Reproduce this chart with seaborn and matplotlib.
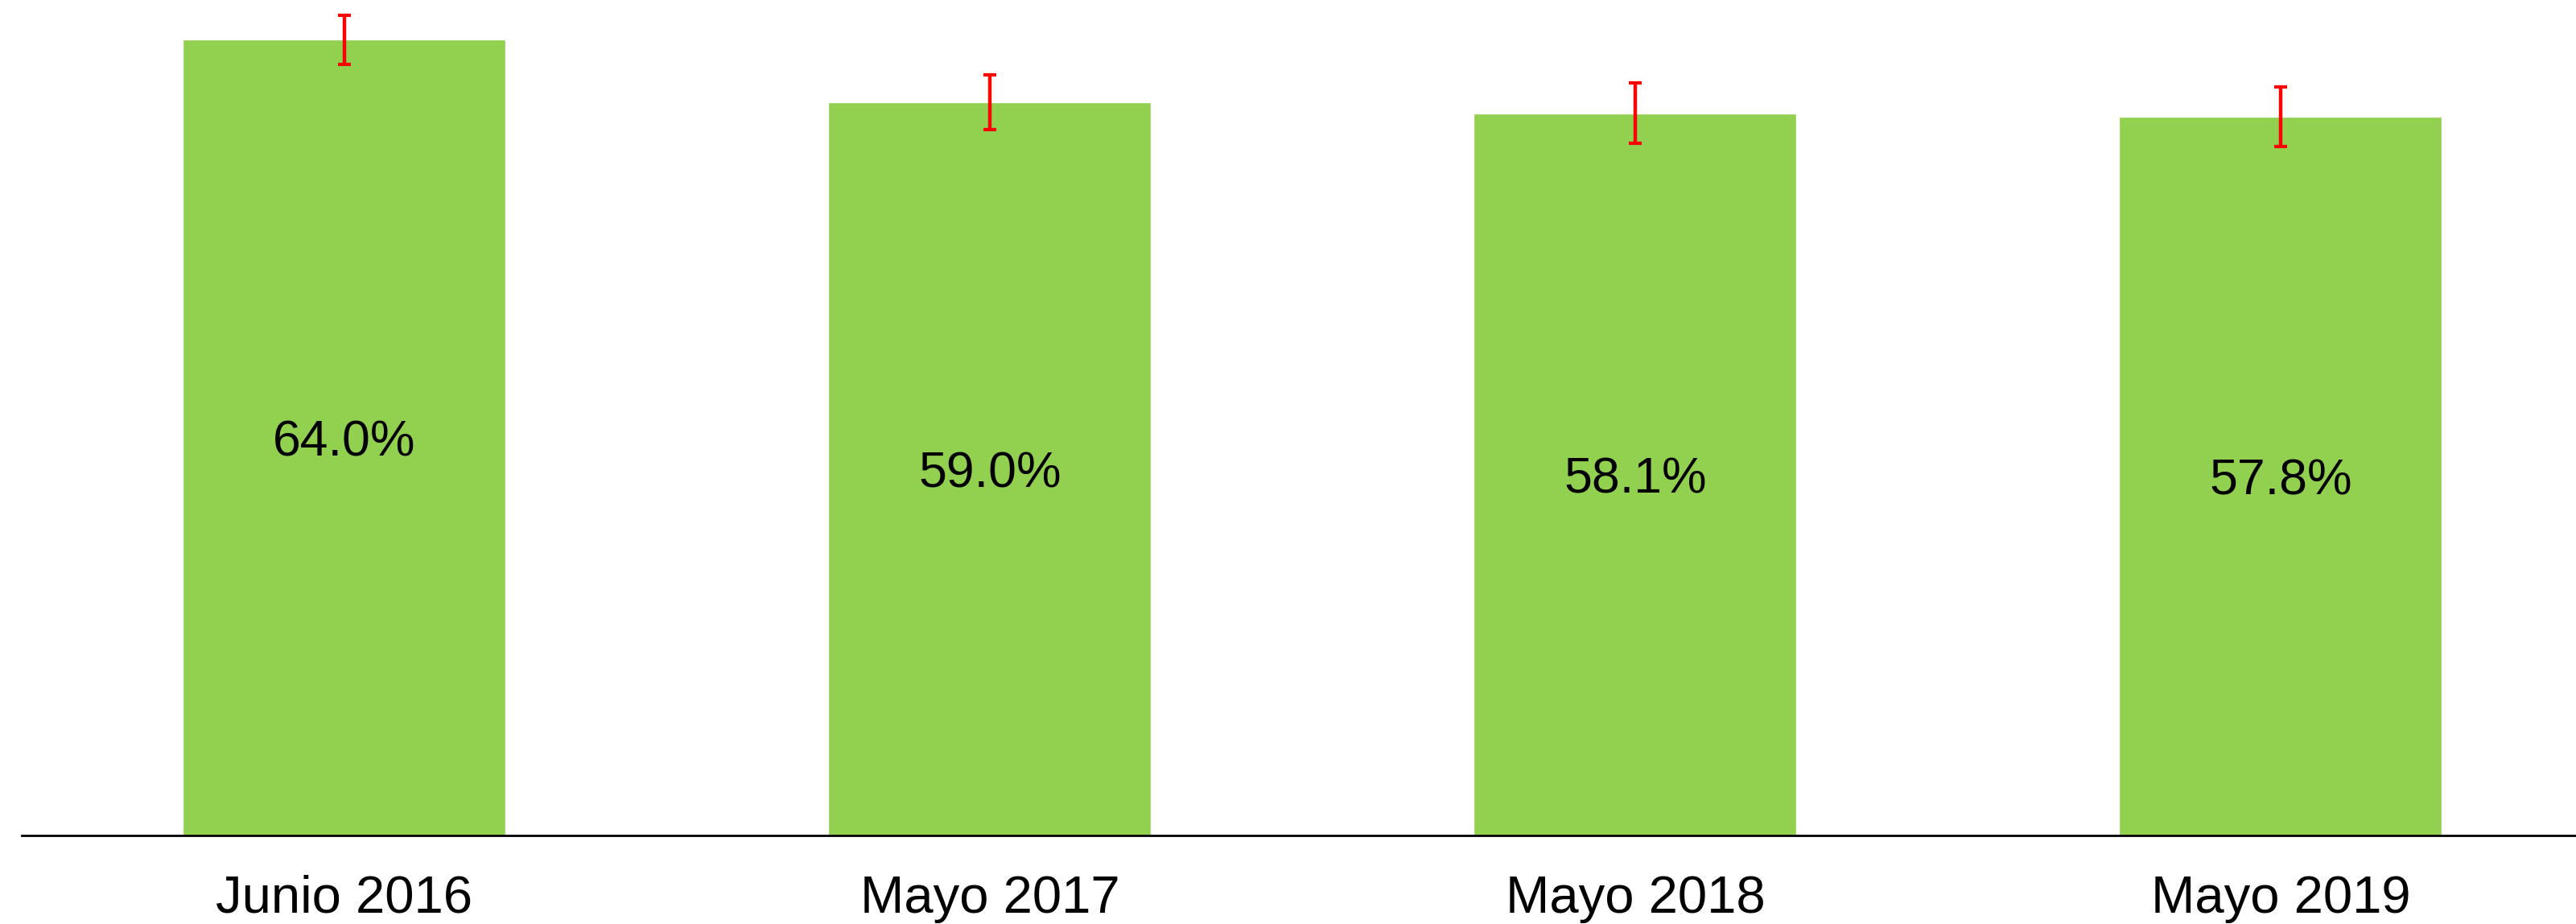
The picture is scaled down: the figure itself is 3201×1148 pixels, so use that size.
import matplotlib
matplotlib.use('Agg')
import matplotlib.pyplot as plt
import seaborn as sns
import pandas as pd

# Data
periods = ['Junio 2016', 'Mayo 2017', 'Mayo 2018', 'Mayo 2019']
values = [64.0, 59.0, 58.1, 57.8]
errors = [2.0, 2.2, 2.4, 2.4]

df = pd.DataFrame({'periodo': periods, 'valor': values})

sns.set_theme(style='white')
plt.rcParams['font.family'] = ['Liberation Sans', 'DejaVu Sans']

fig = plt.figure(figsize=(32.01, 11.48), dpi=100)
ax = fig.add_axes([27 / 3201, 110 / 1148, 3208 / 3201, 1038 / 1148])

sns.barplot(data=df, x='periodo', y='valor', color='#92D050', width=0.5,
            saturation=1, ax=ax)
ax.errorbar(x=range(len(values)), y=values, yerr=errors, fmt='none',
            ecolor='#FF0000', elinewidth=3.2, capsize=5.5, capthick=3)

# value labels in the middle of each bar
for i, v in enumerate(values):
    ax.text(i, v / 2, f'{v:.1f}%', ha='center', va='center_baseline',
            fontsize=45, color='black')

ax.set_xlim(-0.5, 3.5)
ax.set_ylim(0, 67.2)
ax.set_xlabel('')
ax.set_ylabel('')
ax.set_yticks([])
ax.tick_params(axis='x', length=0, pad=35, labelsize=47, labelcolor='black')
for s in ['top', 'right', 'left']:
    ax.spines[s].set_visible(False)
ax.spines['bottom'].set_color('black')
ax.spines['bottom'].set_linewidth(2)

fig.savefig('out.png', dpi=100, facecolor='white')
